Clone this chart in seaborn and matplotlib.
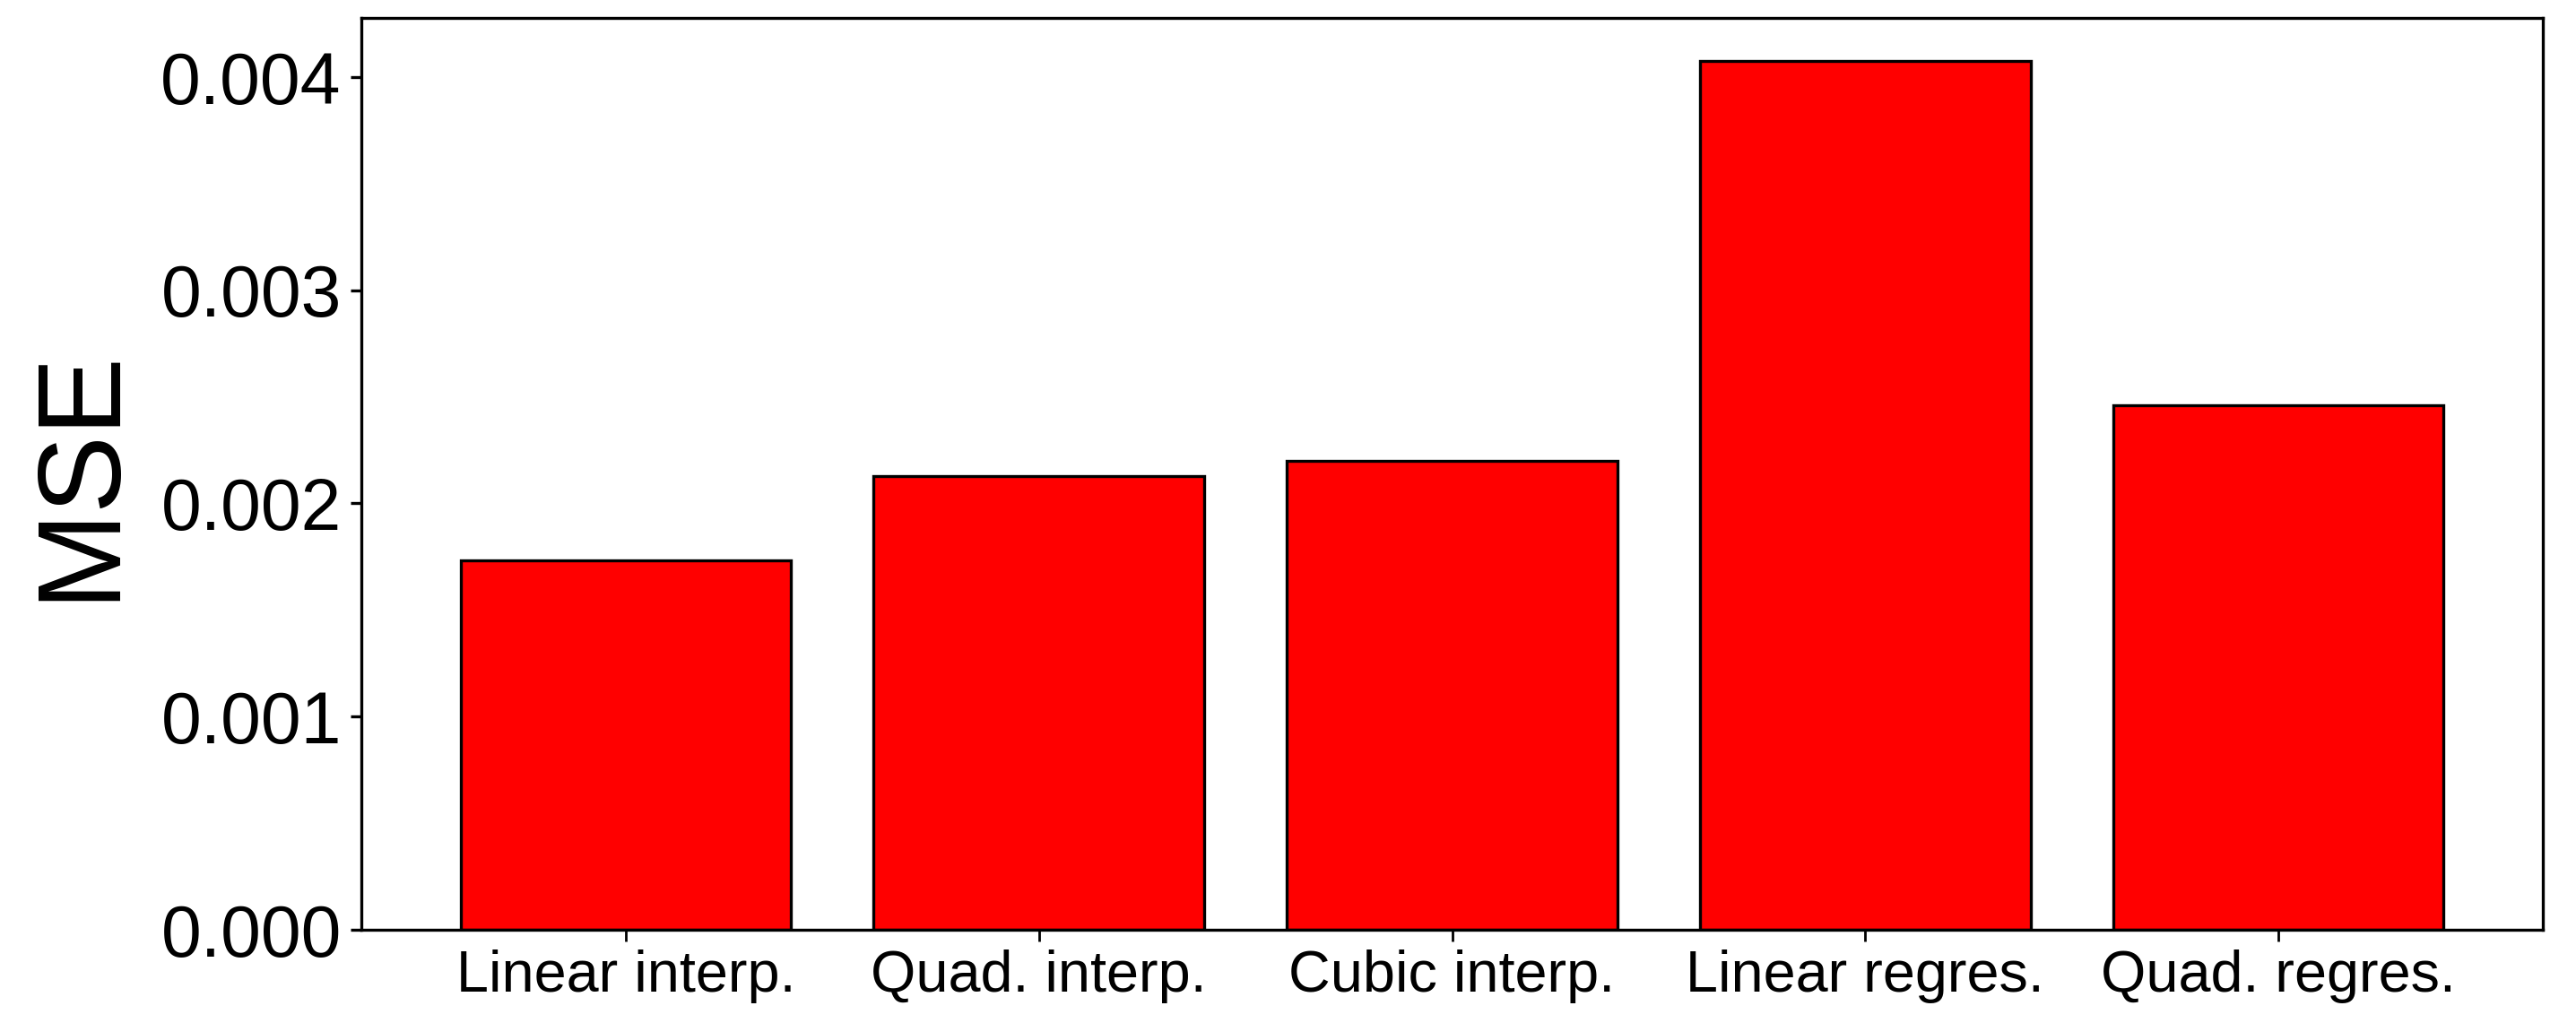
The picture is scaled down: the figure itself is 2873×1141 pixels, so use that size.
import matplotlib
matplotlib.use("Agg")
import matplotlib.pyplot as plt
import seaborn as sns
import pandas as pd

methods = ["Linear interp.", "Quad. interp.", "Cubic interp.", "Linear regres.", "Quad. regres."]
mse = [0.001733, 0.002129, 0.002201, 0.004074, 0.002459]

sns.set_style("white")
plt.rcParams['font.family'] = ['Liberation Sans', 'DejaVu Sans']
plt.rcParams['text.color'] = 'black'
plt.rcParams['axes.labelcolor'] = 'black'
plt.rcParams['xtick.color'] = 'black'
plt.rcParams['ytick.color'] = 'black'

df = pd.DataFrame({"method": methods, "mse": mse})

fig = plt.figure(figsize=(14.365, 5.7055), dpi=200)
ax = fig.add_axes([0.1403, 0.0911, 0.8468, 0.8914])

sns.barplot(data=df, x="method", y="mse", color="#ff0000", saturation=1,
            width=0.8, edgecolor="black", linewidth=1.2, ax=ax)
for p in ax.patches:
    p.set_facecolor("#ff0000")

ax.set_xlim(-0.64, 4.64)
ax.set_ylim(0, 0.004074 * 1.05)
ax.set_yticks([0, 0.001, 0.002, 0.003, 0.004])
ax.set_yticklabels(["0.000", "0.001", "0.002", "0.003", "0.004"])
ax.set_xlabel("")
ax.set_ylabel("MSE", fontsize=47, labelpad=10, color="black")
ax.tick_params(axis="y", labelsize=29, length=4.5, width=1.2, left=True, direction="out",
               color="black", labelcolor="black")
ax.tick_params(axis="x", labelsize=23.3, length=4.5, width=1.0, bottom=True, direction="out",
               color="black", labelcolor="black")
for s in ax.spines.values():
    s.set_visible(True)
    s.set_color("black")
    s.set_linewidth(1.2)

fig.savefig("out.png", dpi=200)
